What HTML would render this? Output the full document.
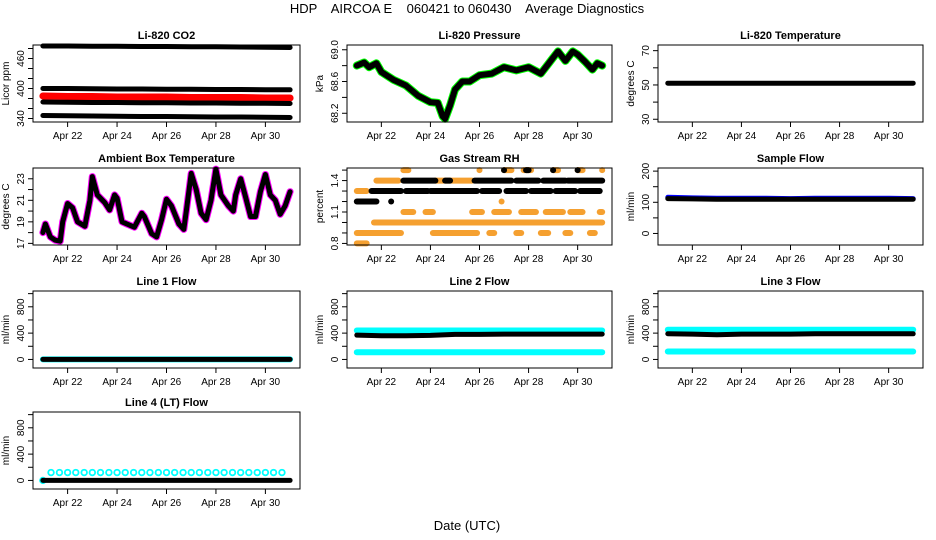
<!DOCTYPE html>
<html><head><meta charset="utf-8"><style>
body{margin:0;background:#fff;}
svg{display:block;font-family:"Liberation Sans",Arial,sans-serif;}
</style></head><body>
<svg id="fig" width="936" height="540" viewBox="0 0 936 540">
<text x="467" y="13" text-anchor="middle" font-size="13" style="white-space:pre">HDP    AIRCOA E    060421 to 060430    Average Diagnostics</text>
<text x="467" y="530" text-anchor="middle" font-size="13">Date (UTC)</text>
</svg>
<script>
// ---------- data ----------
const xTickDays = [22,24,26,28,30];
const xTickLabels = ["Apr 22","Apr 24","Apr 26","Apr 28","Apr 30"];
const dailyT = [21,22,23,24,25,26,27,28,29,30,31];

const co2Top = [485,485,484.5,484.5,484,484,483.5,483.5,483,482.5,482];
const co2Mid = [400,400,399.5,399,399,398.5,398.5,398,398,397.5,397.5];
const co2Red = [385,384,384,383,383,383,382,382,382,381,381];
const co2Low = [373,372.5,372,372,371.5,371.5,371,371,370.5,370.5,370];
const co2Bot = [346,345.5,345,344.5,344,344,343.5,343,343,342.5,342];

const presT = [21.0,21.3,21.5,21.8,22.0,22.5,23.0,23.5,24.0,24.3,24.5,24.6,24.8,25.0,25.3,25.6,26.0,26.5,27.0,27.5,28.0,28.5,28.8,29.0,29.2,29.5,29.8,30.0,30.3,30.6,30.8,31.0];
const presV = [68.8,68.84,68.78,68.83,68.72,68.62,68.55,68.42,68.34,68.33,68.16,68.13,68.3,68.5,68.6,68.6,68.68,68.7,68.78,68.74,68.78,68.7,68.82,68.9,68.98,68.86,68.98,68.94,68.85,68.75,68.83,68.8];

const liTemp = [51,51,51,51,51,51,51,51,51,51,51];

const ambT = [21.0,21.1,21.3,21.5,21.7,21.8,22.0,22.2,22.4,22.7,22.9,23.0,23.2,23.5,23.7,23.9,24.0,24.2,24.4,24.7,25.0,25.1,25.4,25.6,25.8,26.0,26.2,26.5,26.7,26.8,27.0,27.2,27.4,27.6,27.8,28.0,28.2,28.5,28.7,28.8,29.0,29.2,29.4,29.6,29.8,30.0,30.2,30.4,30.6,30.8,31.0];
const ambV = [18.0,18.8,17.6,17.3,17.2,19.0,20.7,20.3,19.0,18.6,21.0,23.2,21.5,20.8,20.1,21.5,21.2,19.0,18.8,18.5,19.8,19.5,17.9,17.6,19.2,21.1,20.5,18.8,18.3,20.0,23.5,22.0,19.8,19.2,21.0,23.9,21.5,20.5,20.0,21.5,23.0,21.3,19.5,19.5,21.8,23.4,21.5,21.0,19.7,20.5,21.8];

const rhBlack = [[21.0,21.8,1.2],[22.4,22.4,1.2],[21.6,22.8,1.3],[23.0,23.9,1.3],[24.0,25.9,1.3],[26.1,26.8,1.3],[27.1,27.9,1.3],[28.1,28.9,1.3],[29.1,29.9,1.3],[30.1,30.9,1.3],[22.9,24.2,1.4],[24.6,24.8,1.4],[25.8,27.3,1.4],[27.5,28.4,1.4],[28.6,29.5,1.4],[29.6,31.0,1.4],[27.0,27.0,1.5],[27.9,28.0,1.5],[29.0,29.0,1.5],[30.0,30.0,1.5]];
const rhOrange = [[22.9,23.1,1.5],[26.0,26.0,1.5],[27.0,27.3,1.5],[27.8,28.1,1.5],[29.0,29.2,1.5],[30.0,30.2,1.5],[31.0,31.0,1.5],[21.8,22.7,1.4],[24.2,25.7,1.4],[21.0,21.4,1.3],[26.9,26.9,1.2],[22.9,23.3,1.1],[23.8,24.1,1.1],[25.7,26.1,1.1],[26.6,27.2,1.1],[27.7,28.3,1.1],[28.7,29.4,1.1],[29.7,30.2,1.1],[30.9,31.0,1.1],[21.7,31.0,1.0],[21.0,22.8,0.9],[24.1,25.9,0.9],[26.4,26.6,0.9],[27.5,27.7,0.9],[28.5,28.8,0.9],[29.5,29.7,0.9],[30.5,30.7,0.9],[21.0,21.4,0.8]];

const sampleBlack = [112,111,110,110,110,110,110,110,110,110,110];
const sampleBlue = [116,114,113,113,113,112,113,113,113,113,112];

const line1Black = [0,0,0,0,0,0,0,0,0,0,0];
const line1Cyan = [0,0,0,0,0,0,0,0,0,0,0];
const line2Black = [370,360,360,365,380,380,385,385,385,385,385];
const line2CyanHi = [440,440,440,440,440,440,440,440,440,440,440];
const line2CyanLo = [110,110,110,110,110,110,110,110,110,110,110];
const line3Black = [390,385,375,385,385,385,390,390,390,390,390];
const line3CyanHi = [450,450,450,450,450,450,450,450,450,450,450];
const line3CyanLo = [120,120,120,120,120,120,120,120,120,120,120];
const line4Black = [0,0,0,0,0,0,0,0,0,0,0];
const line4CyanT = [21.0,21.33,21.67,22.0,22.33,22.67,23.0,23.33,23.67,24.0,24.33,24.67,25.0,25.33,25.67,26.0,26.33,26.67,27.0,27.33,27.67,28.0,28.33,28.67,29.0,29.33,29.67,30.0,30.33,30.67];
const line4CyanV = [0,120,120,120,120,120,120,120,120,120,120,120,120,120,120,120,120,120,120,120,120,120,120,120,120,120,120,120,120,120];

// ---------- drawing ----------
const NS = "http://www.w3.org/2000/svg";
const svg = document.getElementById("fig");
const colLeft = [33,347,658], colW = [267,265,265];
const rowTop = [45,168,291,412], rowH = 77;
const XMIN = 20.6, XMAX = 31.4;

function mk(tag, attrs, parent){
  const e = document.createElementNS(NS, tag);
  for (const k in attrs) e.setAttribute(k, attrs[k]);
  (parent||svg).appendChild(e);
  return e;
}

function panel(col,row,title,ylab,ymin,ymax,yTicks,yLabels,name){
  const L = colLeft[col], T = rowTop[row], W = colW[col], H = rowH;
  const g = mk("g",{});
  
  
  const sx = d => L + (d - XMIN)/(XMAX - XMIN)*W;
  const sy = v => T + H - (v - ymin)/(ymax - ymin)*H;
  const t = mk("text",{x:L+W/2,y:T-6,"text-anchor":"middle","font-size":"11","font-weight":"bold"},g);
  t.textContent = title;
  
  
  const yl = mk("text",{transform:`translate(${L-24},${T+H/2}) rotate(-90)`,"text-anchor":"middle","font-size":"10"},g);
  yl.textContent = ylab;
  
  
  mk("line",{x1:L,x2:L,y1:sy(yTicks[0]),y2:sy(yTicks[yTicks.length-1]),stroke:"#000"},g);
  yTicks.forEach((v,i)=>{
    mk("line",{x1:L-5,x2:L,y1:sy(v),y2:sy(v),stroke:"#000"},g);
    if (yLabels[i]!==""){
      const tl = mk("text",{transform:`translate(${L-9},${sy(v)}) rotate(-90)`,"text-anchor":"middle","font-size":"10"},g);
      tl.textContent = yLabels[i];
      
      
    }
  });
  xTickDays.forEach((d,i)=>{
    mk("line",{x1:sx(d),x2:sx(d),y1:T+H,y2:T+H+5,stroke:"#000"},g);
    const tl = mk("text",{x:sx(d),y:T+H+17,"text-anchor":"middle","font-size":"10"},g);
    tl.textContent = xTickLabels[i];
    
    
  });
  const clip = mk("g",{},g);
  const box = mk("rect",{x:L,y:T,width:W,height:H,fill:"none",stroke:"#000","stroke-width":"1"},g);
  
  
  return {sx,sy,g:clip};
}

function series(p,ts,vs,color,w,nm){
  const pts = ts.map((d,i)=>p.sx(d).toFixed(1)+","+p.sy(vs[i]).toFixed(1)).join(" ");
  const e = mk("polyline",{points:pts,fill:"none",stroke:color,"stroke-width":w,"stroke-linecap":"round","stroke-linejoin":"round"},p.g);
  
  
}
function segs(p,arr,color,w,nm){
  arr.forEach(s=>{
    const e = mk("line",{x1:p.sx(s[0]),x2:p.sx(s[1]),y1:p.sy(s[2]),y2:p.sy(s[2]),stroke:color,"stroke-width":w,"stroke-linecap":"round"},p.g);
    
    
  });
}

let p = panel(0,0,"Li-820 CO2","Licor ppm",333,487,[340,360,380,400,420,440,460,480],["340","","","400","","","460",""],"co2");
series(p,dailyT,co2Red,"#f00",7,"co2-red-series");
series(p,dailyT,co2Top,"#000",5,"co2-top-series");
series(p,dailyT,co2Mid,"#000",5,"co2-mid-series");
series(p,dailyT,co2Low,"#000",5,"co2-low-series");
series(p,dailyT,co2Bot,"#000",5,"co2-bottom-series");

p = panel(1,0,"Li-820 Pressure","kPa",68.09,69.06,[68.2,68.4,68.6,68.8,69.0],["68.2","","68.6","","69.0"],"pressure");
series(p,presT,presV,"#0f0",8,"pressure-green-series");
series(p,presT,presV,"#000",6,"pressure-series");

p = panel(2,0,"Li-820 Temperature","degrees C",28.4,73.3,[30,40,50,60,70],["30","","50","","70"],"li-temp");
series(p,dailyT,liTemp,"#000",5,"li-temp-series");

p = panel(0,1,"Ambient Box Temperature","degrees C",16.85,24.0,[17,18,19,20,21,22,23],["17","","19","","21","","23"],"ambient");
series(p,ambT,ambV,"#f0f",7,"ambient-magenta-series");
series(p,ambT,ambV,"#000",5,"ambient-series");

p = panel(1,1,"Gas Stream RH","percent",0.785,1.52,[0.8,0.9,1.0,1.1,1.2,1.3,1.4,1.5],["0.8","","","1.1","","","1.4",""],"rh");
segs(p,rhOrange,"#f5a030",6,"rh-orange-points");
segs(p,rhBlack,"#000",6,"rh-black-points");

p = panel(2,1,"Sample Flow","ml/min",-37,210,[0,50,100,150,200],["0","","100","","200"],"sample-flow");
series(p,dailyT,sampleBlue,"#00f",5,"sample-flow-blue-series");
series(p,dailyT,sampleBlack,"#000",5,"sample-flow-series");

const flowTicks = [0,200,400,600,800,1000], flowLabels = ["0","","400","","800",""];
p = panel(0,2,"Line 1 Flow","ml/min",-130,1040,flowTicks,flowLabels,"line1");
series(p,dailyT,line1Cyan,"#0ff",6,"line1-cyan-series");
series(p,dailyT,line1Black,"#000",5,"line1-series");

p = panel(1,2,"Line 2 Flow","ml/min",-130,1040,flowTicks,flowLabels,"line2");
series(p,dailyT,line2CyanHi,"#0ff",6,"line2-cyan-high-series");
series(p,dailyT,line2CyanLo,"#0ff",6,"line2-cyan-low-series");
series(p,dailyT,line2Black,"#000",5,"line2-series");

p = panel(2,2,"Line 3 Flow","ml/min",-130,1040,flowTicks,flowLabels,"line3");
series(p,dailyT,line3CyanHi,"#0ff",6,"line3-cyan-high-series");
series(p,dailyT,line3CyanLo,"#0ff",6,"line3-cyan-low-series");
series(p,dailyT,line3Black,"#000",5,"line3-series");

p = panel(0,3,"Line 4 (LT) Flow","ml/min",-130,1040,flowTicks,flowLabels,"line4");
line4CyanT.forEach((d,i)=>{
  const c = mk("circle",{cx:p.sx(d),cy:p.sy(line4CyanV[i]),r:2.8,fill:"none",stroke:"#0ff","stroke-width":"1.8"},p.g);
  
  
});
series(p,dailyT,line4Black,"#000",5,"line4-series");
</script>
</body></html>
